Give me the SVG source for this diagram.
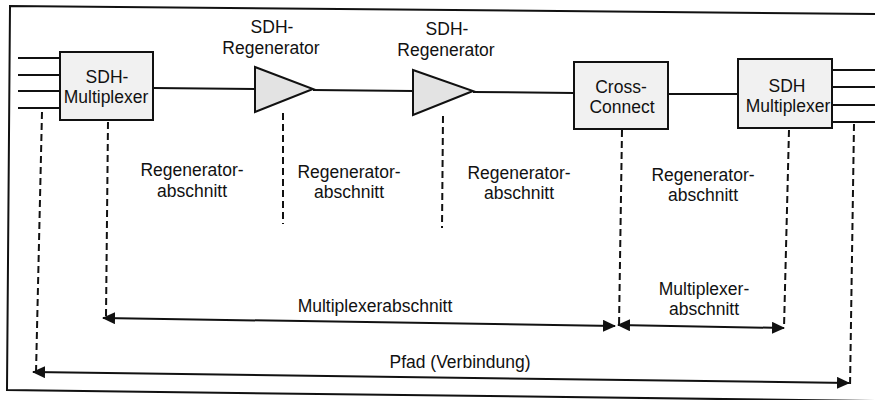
<svg xmlns="http://www.w3.org/2000/svg" width="875" height="400" viewBox="0 0 875 400">
  <style>
    .frame { fill: none; stroke: #111; stroke-width: 2; }
    .box { fill: #f1f1f1; stroke: #111; stroke-width: 2; }
    .amp { fill: #e3e3e3; stroke: #111; stroke-width: 2; stroke-linejoin: miter; }
    .wire { fill: none; stroke: #111; stroke-width: 2; }
    .dash { fill: none; stroke: #111; stroke-width: 2; stroke-dasharray: 7 4; }
    .span { fill: none; stroke: #111; stroke-width: 2; marker-start: url(#head); marker-end: url(#head); }
    text { font-family: "Liberation Sans", Arial, sans-serif; font-size: 17.5px; fill: #111; text-anchor: middle; }
  </style>
  <defs>
    <marker id="head" viewBox="0 0 13 12" refX="12" refY="6" markerWidth="13" markerHeight="12" markerUnits="userSpaceOnUse" orient="auto-start-reverse">
      <path d="M0,0 L13,6 L0,12 z" fill="#111"/>
    </marker>
  </defs>

  <rect width="875" height="400" fill="#fff"/>

  <!-- outer frame, open on the right -->
  <path class="frame" d="M875,14 L10,6 L7,390 L875,401"/>

  <!-- transmission chain and section markers -->
  <g id="connectors">
    <!-- tributary inputs -->
    <line class="wire" x1="18" y1="58" x2="60" y2="58"/>
    <line class="wire" x1="18" y1="75" x2="60" y2="75"/>
    <line class="wire" x1="18" y1="91" x2="60" y2="91"/>
    <line class="wire" x1="18" y1="108" x2="60" y2="108"/>
    <!-- line path -->
    <line class="wire" x1="153" y1="88" x2="255" y2="89"/>
    <line class="wire" x1="313" y1="90" x2="413" y2="91"/>
    <line class="wire" x1="473" y1="92" x2="574" y2="93"/>
    <line class="wire" x1="668" y1="94" x2="738" y2="94"/>
    <!-- tributary outputs -->
    <line class="wire" x1="832" y1="70" x2="875" y2="70"/>
    <line class="wire" x1="832" y1="87" x2="875" y2="87"/>
    <line class="wire" x1="832" y1="105" x2="875" y2="105"/>
    <line class="wire" x1="832" y1="122" x2="875" y2="122"/>

    <!-- section boundaries -->
    <line class="dash" x1="42" y1="112" x2="36" y2="373"/>
    <line class="dash" x1="108" y1="122" x2="106" y2="316"/>
    <line class="dash" x1="283" y1="113" x2="283" y2="224"/>
    <line class="dash" x1="443" y1="116" x2="442" y2="228"/>
    <line class="dash" x1="622" y1="130" x2="619" y2="327"/>
    <line class="dash" x1="789" y1="130" x2="784" y2="328"/>
    <line class="dash" x1="854" y1="124" x2="850" y2="388"/>

    <!-- section spans -->
    <line class="span" x1="103" y1="318" x2="615" y2="326"/>
    <line class="span" x1="618" y1="325" x2="784" y2="328"/>
    <line class="span" x1="33" y1="372" x2="849" y2="383"/>
  </g>

  <g id="mux-left">
    <rect class="box" x="60" y="52" width="93" height="68"/>
    <text x="107" y="83">SDH-</text>
    <text x="106" y="103">Multiplexer</text>
  </g>

  <g id="regen-1">
    <polygon class="amp" points="255,67 313,89 255,112"/>
    <text x="272" y="33">SDH-</text>
    <text x="271" y="54">Regenerator</text>
  </g>

  <g id="regen-2">
    <polygon class="amp" points="413,70 473,91 413,115"/>
    <text x="447" y="35">SDH-</text>
    <text x="446" y="56">Regenerator</text>
  </g>

  <g id="cross-connect">
    <rect class="box" x="574" y="62" width="94" height="67"/>
    <text x="621" y="93">Cross-</text>
    <text x="622" y="113">Connect</text>
  </g>

  <g id="mux-right">
    <rect class="box" x="738" y="59" width="94" height="69"/>
    <text x="787" y="92">SDH</text>
    <text x="788" y="112">Multiplexer</text>
  </g>

  <!-- section labels -->
  <g id="labels">
    <text x="192" y="176">Regenerator-</text>
    <text x="192" y="197">abschnitt</text>
    <text x="349" y="178">Regenerator-</text>
    <text x="349" y="198">abschnitt</text>
    <text x="519" y="179">Regenerator-</text>
    <text x="519" y="199">abschnitt</text>
    <text x="703" y="181">Regenerator-</text>
    <text x="703" y="201">abschnitt</text>
    <text x="375" y="312">Multiplexerabschnitt</text>
    <text x="704" y="295">Multiplexer-</text>
    <text x="704" y="315">abschnitt</text>
    <text x="460" y="368">Pfad (Verbindung)</text>
  </g>
</svg>
